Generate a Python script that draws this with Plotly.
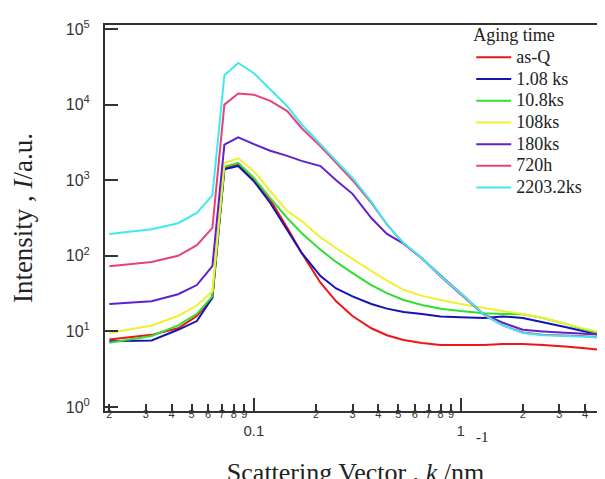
import plotly.graph_objects as go
import math

k = [0.020, 0.032, 0.043, 0.053, 0.063, 0.072, 0.084, 0.10, 0.12, 0.145, 0.17, 0.21,
     0.25, 0.30, 0.37, 0.44, 0.53, 0.65, 0.80, 1.0, 1.3, 1.6, 2.0, 2.5, 3.2, 4.0, 4.8, 4.92]

as_q = [7.8, 9.0, 11, 16, 28, 1450, 1600, 1000, 550, 234, 110, 44,
        25, 16, 11, 8.9, 7.7, 7.0, 6.6, 6.6, 6.6, 6.8, 6.8, 6.6, 6.3, 6.0, 5.7, 5.4]
ks1_08 = [7.4, 7.6, 10.5, 13.7, 28, 1400, 1540, 970, 500, 220, 110, 54,
          37, 29, 23, 20, 18, 17, 15.8, 15.4, 15, 15.8, 15, 13.2, 11.4, 10, 9.1, 9.0]
ks10_8 = [7.1, 8.7, 12, 17, 29, 1500, 1700, 1070, 580, 316, 200, 120,
          83, 59, 41, 32, 26, 22.4, 20, 18.6, 17.4, 17, 16.8, 15, 12.6, 10.5, 9.2, 9.0]
ks108 = [9.5, 12, 16, 22, 34, 1700, 1950, 1320, 720, 390, 290, 175,
         126, 91, 63, 47, 35.5, 29.5, 26, 23, 20.4, 18.6, 17, 15, 12.6, 10.8, 9.8, 9.7]
ks180 = [23, 25, 31, 41, 73, 2950, 3700, 3000, 2450, 2100, 1800, 1540,
         1000, 660, 316, 195, 145, 93, 55, 32, 16.6, 13, 10.5, 10, 9.6, 9.3, 9.0, 9.0]
h720 = [73, 83, 100, 138, 234, 10000, 14000, 13500, 11200, 8200, 4900, 2800,
        1700, 1000, 500, 260, 145, 92, 53, 31, 16.5, 12, 9.7, 9.0, 8.8, 8.6, 8.3, 8.2]
ks2203_2 = [194, 225, 270, 370, 630, 24500, 35500, 26000, 16000, 9500, 5500, 3000,
            1800, 1070, 520, 257, 148, 93, 54, 32, 16.6, 12, 9.5, 8.9, 8.7, 8.5, 8.2, 0.3]

series_names = ["as-Q", "1.08 ks", "10.8ks", "108ks", "180ks", "720h", "2203.2ks"]
series_values = [as_q, ks1_08, ks10_8, ks108, ks180, h720, ks2203_2]
colors = ["#f01414", "#1414b4", "#30e030", "#f0f030", "#6020d0", "#e8407a", "#40e8f0"]

x_minor_vals = [0.02, 0.03, 0.04, 0.05, 0.06, 0.07, 0.08, 0.09,
                0.2, 0.3, 0.4, 0.5, 0.6, 0.7, 0.8, 0.9, 2, 3, 4, 5]
x_minor_text = ["2", "3", "4", "5", "6", "7", "8", "9",
                "2", "3", "4", "5", "6", "7", "8", "9",
                "2", "3", "4", "5"]
x_major_vals = [0.1, 1]
x_major_text = ["0.1", "1"]
y_tickvals = [1, 10, 100, 1000, 10000, 100000]
y_ticktext = ["10<sup>0</sup>", "10<sup>1</sup>", "10<sup>2</sup>",
              "10<sup>3</sup>", "10<sup>4</sup>", "10<sup>5</sup>"]

fig = go.Figure()
for name, vals, c in zip(series_names, series_values, colors):
    fig.add_trace(go.Scatter(x=k, y=vals, mode="lines",
                             name="<span style='font-size:18px'>" + name + "</span>",
                             line=dict(color=c, width=2, simplify=False)))

# invisible helper trace for the second x axis (long decade ticks + labels)
fig.add_trace(go.Scatter(x=[0.1], y=[1], xaxis="x2", mode="markers",
                         marker=dict(opacity=0), showlegend=False, hoverinfo="skip"))

xr = [math.log10(0.01905), math.log10(5.05)]
yr = [-0.053, 5.053]

fig.update_layout(
    width=605, height=479,
    margin=dict(l=97, r=5, t=17, b=76),
    paper_bgcolor="white", plot_bgcolor="white",
    showlegend=True,
    legend=dict(
        x=0.731, y=1.008, xanchor="left", yanchor="top",
        bgcolor="rgba(0,0,0,0)",
        font=dict(family="Liberation Serif", size=14.4, color="#222"),
        title=dict(text="<span style='font-size:18px'>Aging time</span>",
                   font=dict(family="Liberation Serif", size=15, color="#222")),
        tracegroupgap=0, itemwidth=35,
    ),
    xaxis=dict(
        type="log", range=xr,
        tickmode="array", tickvals=x_minor_vals, ticktext=x_minor_text, tickangle=0,
        ticklabeloverflow="allow", ticklabelstandoff=-8,
        ticks="inside", ticklen=7, tickwidth=1.5, tickcolor="#333",
        showline=True, linecolor="#333", linewidth=2, mirror=True,
        showgrid=False, zeroline=False,
        tickfont=dict(family="Liberation Sans", size=11, color="#333"),
        title=dict(text="Scattering Vector , <i>k</i> /nm\u2002",
                   font=dict(family="Liberation Serif", size=26, color="#222"),
                   standoff=44),
    ),
    xaxis2=dict(
        type="log", range=xr, overlaying="x", anchor="y", side="bottom",
        tickmode="array", tickvals=x_major_vals, ticktext=x_major_text, tickangle=0,
        ticks="inside", ticklen=13, tickwidth=1.5, tickcolor="#333",
        ticklabelstandoff=9,
        tickfont=dict(family="Liberation Sans", size=15, color="#333"),
        showline=False, showgrid=False, zeroline=False,
    ),
    yaxis=dict(
        type="log", range=yr,
        tickmode="array", tickvals=y_tickvals, ticktext=y_ticktext,
        ticks="inside", ticklen=13, tickwidth=2, tickcolor="#333",
        showline=True, linecolor="#333", linewidth=2,
        showgrid=False, zeroline=False, ticklabelstandoff=10,
        tickfont=dict(family="Liberation Sans", size=16, color="#333"),
        title=dict(text="Intensity , <i>I</i>/a.u.",
                   font=dict(family="Liberation Serif", size=27, color="#222"),
                   standoff=29),
    ),
    annotations=[dict(text="-1", xref="paper", yref="paper",
                      x=(476 - 97) / 503, y=-(429 - 403) / 386,
                      xanchor="center", yanchor="middle", showarrow=False,
                      font=dict(family="Liberation Serif", size=15, color="#222"))],
)

fig.write_html("out.html")
